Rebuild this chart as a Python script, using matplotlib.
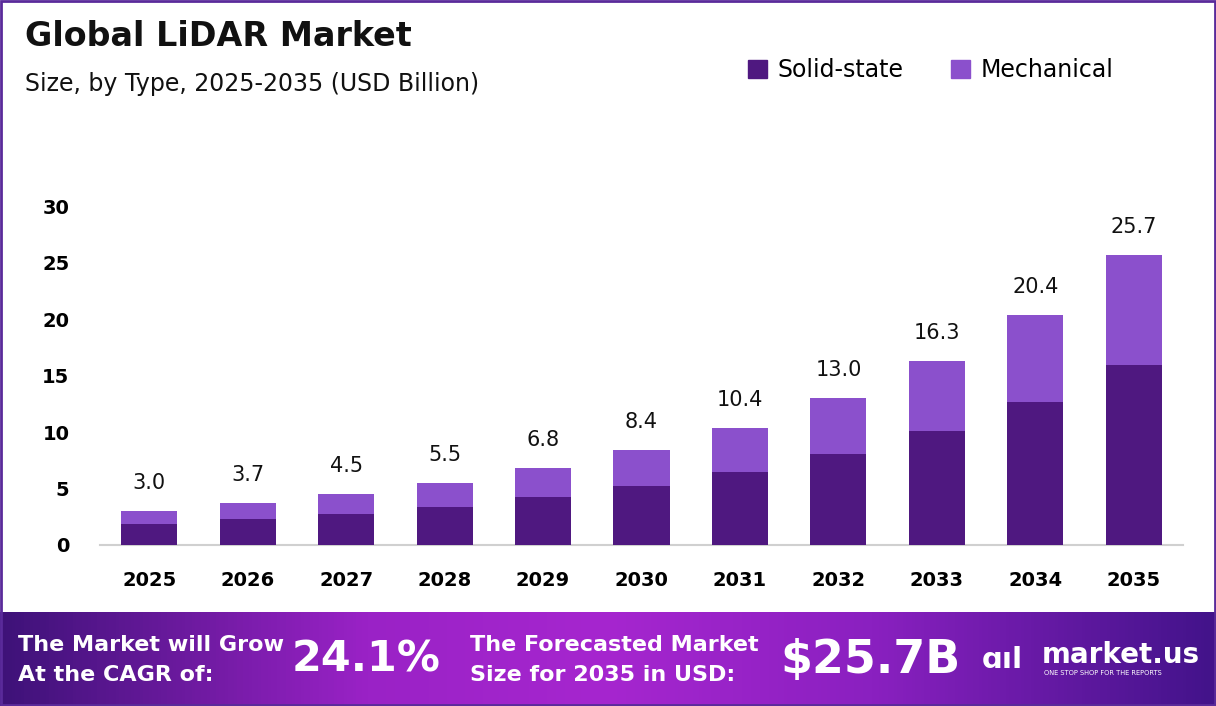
import numpy as np
import matplotlib
matplotlib.use("Agg")
import matplotlib.pyplot as plt
from matplotlib.colors import LinearSegmentedColormap
from matplotlib.patches import Rectangle, Patch

# datos
years = ["2025", "2026", "2027", "2028", "2029", "2030",
         "2031", "2032", "2033", "2034", "2035"]
totals = [3.0, 3.7, 4.5, 5.5, 6.8, 8.4, 10.4, 13.0, 16.3, 20.4, 25.7]
solid_state = [1.86, 2.29, 2.79, 3.41, 4.22, 5.21, 6.45, 8.06, 10.11, 12.65, 15.93]
mechanical = [t - s for t, s in zip(totals, solid_state)]
y_ticks = [0, 5, 10, 15, 20, 25, 30]

c_solid = "#4f1880"
c_mech = "#8b50cc"

W, H = 1216, 706
fig = plt.figure(figsize=(W / 100, H / 100), dpi=100)

# ejes principales
ax = fig.add_axes([100 / W, (H - 545) / H, 1083 / W, (545 - 184) / H])
x = np.arange(len(years))
ax.bar(x, solid_state, width=0.57, color=c_solid, zorder=3)
ax.bar(x, mechanical, width=0.57, bottom=solid_state, color=c_mech, zorder=3)

for xi, t in zip(x, totals):
    ax.annotate(f"{t:.1f}", (xi, t), xytext=(0, 13), textcoords="offset points",
                ha="center", va="bottom", fontsize=15, color="#111111")

ax.set_xlim(-0.5, len(years) - 0.5)
ax.set_ylim(0, 32)
ax.set_xticks(x)
ax.set_xticklabels(years, fontsize=14, fontweight="bold")
ax.set_yticks(y_ticks)
ax.set_yticklabels([str(v) for v in y_ticks], fontsize=14, fontweight="bold")
ax.tick_params(axis="x", length=0, pad=19)
ax.tick_params(axis="y", length=0, pad=22)
for s in ["top", "right", "left"]:
    ax.spines[s].set_visible(False)
ax.spines["bottom"].set_color("#d0d0d0")
ax.spines["bottom"].set_linewidth(1.5)

# titulos
fig.text(25 / W, 1 - 37 / H, "Global LiDAR Market", fontsize=24, fontweight="bold",
         va="center", ha="left", color="#111111")
fig.text(25 / W, 1 - 84 / H, "Size, by Type, 2025-2035 (USD Billion)", fontsize=17,
         va="center", ha="left", color="#111111")

# leyenda
handles = [Patch(color=c_solid, label="Solid-state"),
           Patch(color=c_mech, label="Mechanical")]
fig.legend(handles=handles, loc="center left", bbox_to_anchor=(727 / W, 1 - 70 / H),
           ncol=2, frameon=False, fontsize=17, handlelength=0.8, handleheight=0.8,
           handletextpad=0.45, columnspacing=2.0)

# banda inferior con degradado
bax = fig.add_axes([0, 0, 1, 94 / H])
cmap = LinearSegmentedColormap.from_list(
    "banda", [(0, "#3e1278"), (0.3, "#9a22c6"), (0.5, "#a626cf"),
              (0.72, "#8a20c0"), (1, "#43138a")])
bax.imshow(np.linspace(0, 1, 400).reshape(1, -1), aspect="auto", cmap=cmap,
           extent=[0, 1, 0, 1])
bax.set_xlim(0, 1)
bax.set_ylim(0, 1)
bax.axis("off")

fig.text(18 / W, 1 - 645 / H, "The Market will Grow", fontsize=16, fontweight="bold",
         color="white", va="center", ha="left")
fig.text(18 / W, 1 - 675 / H, "At the CAGR of:", fontsize=16, fontweight="bold",
         color="white", va="center", ha="left")
fig.text(292 / W, 1 - 660 / H, "24.1%", fontsize=31, fontweight="bold",
         color="white", va="center", ha="left")
fig.text(470 / W, 1 - 645 / H, "The Forecasted Market", fontsize=16, fontweight="bold",
         color="white", va="center", ha="left")
fig.text(470 / W, 1 - 675 / H, "Size for 2035 in USD:", fontsize=16, fontweight="bold",
         color="white", va="center", ha="left")
fig.text(780 / W, 1 - 660 / H, "$25.7B", fontsize=33, fontweight="bold",
         color="white", va="center", ha="left")
fig.text(1042 / W, 1 - 655 / H, "market.us", fontsize=20, fontweight="bold",
         color="white", va="center", ha="left")
fig.text(1044 / W, 1 - 673 / H, "ONE STOP SHOP FOR THE REPORTS", fontsize=4.8,
         color="white", va="center", ha="left")
fig.text(982 / W, 1 - 660 / H, "ɑıl", fontsize=21, fontweight="bold",
         color="white", va="center", ha="left")

# borde morado
fig.patches.append(Rectangle((0.001, 0.001), 0.998, 0.997, transform=fig.transFigure,
                             fill=False, edgecolor="#5a2a9a", linewidth=2, zorder=10))

fig.savefig("out.png", dpi=100)
